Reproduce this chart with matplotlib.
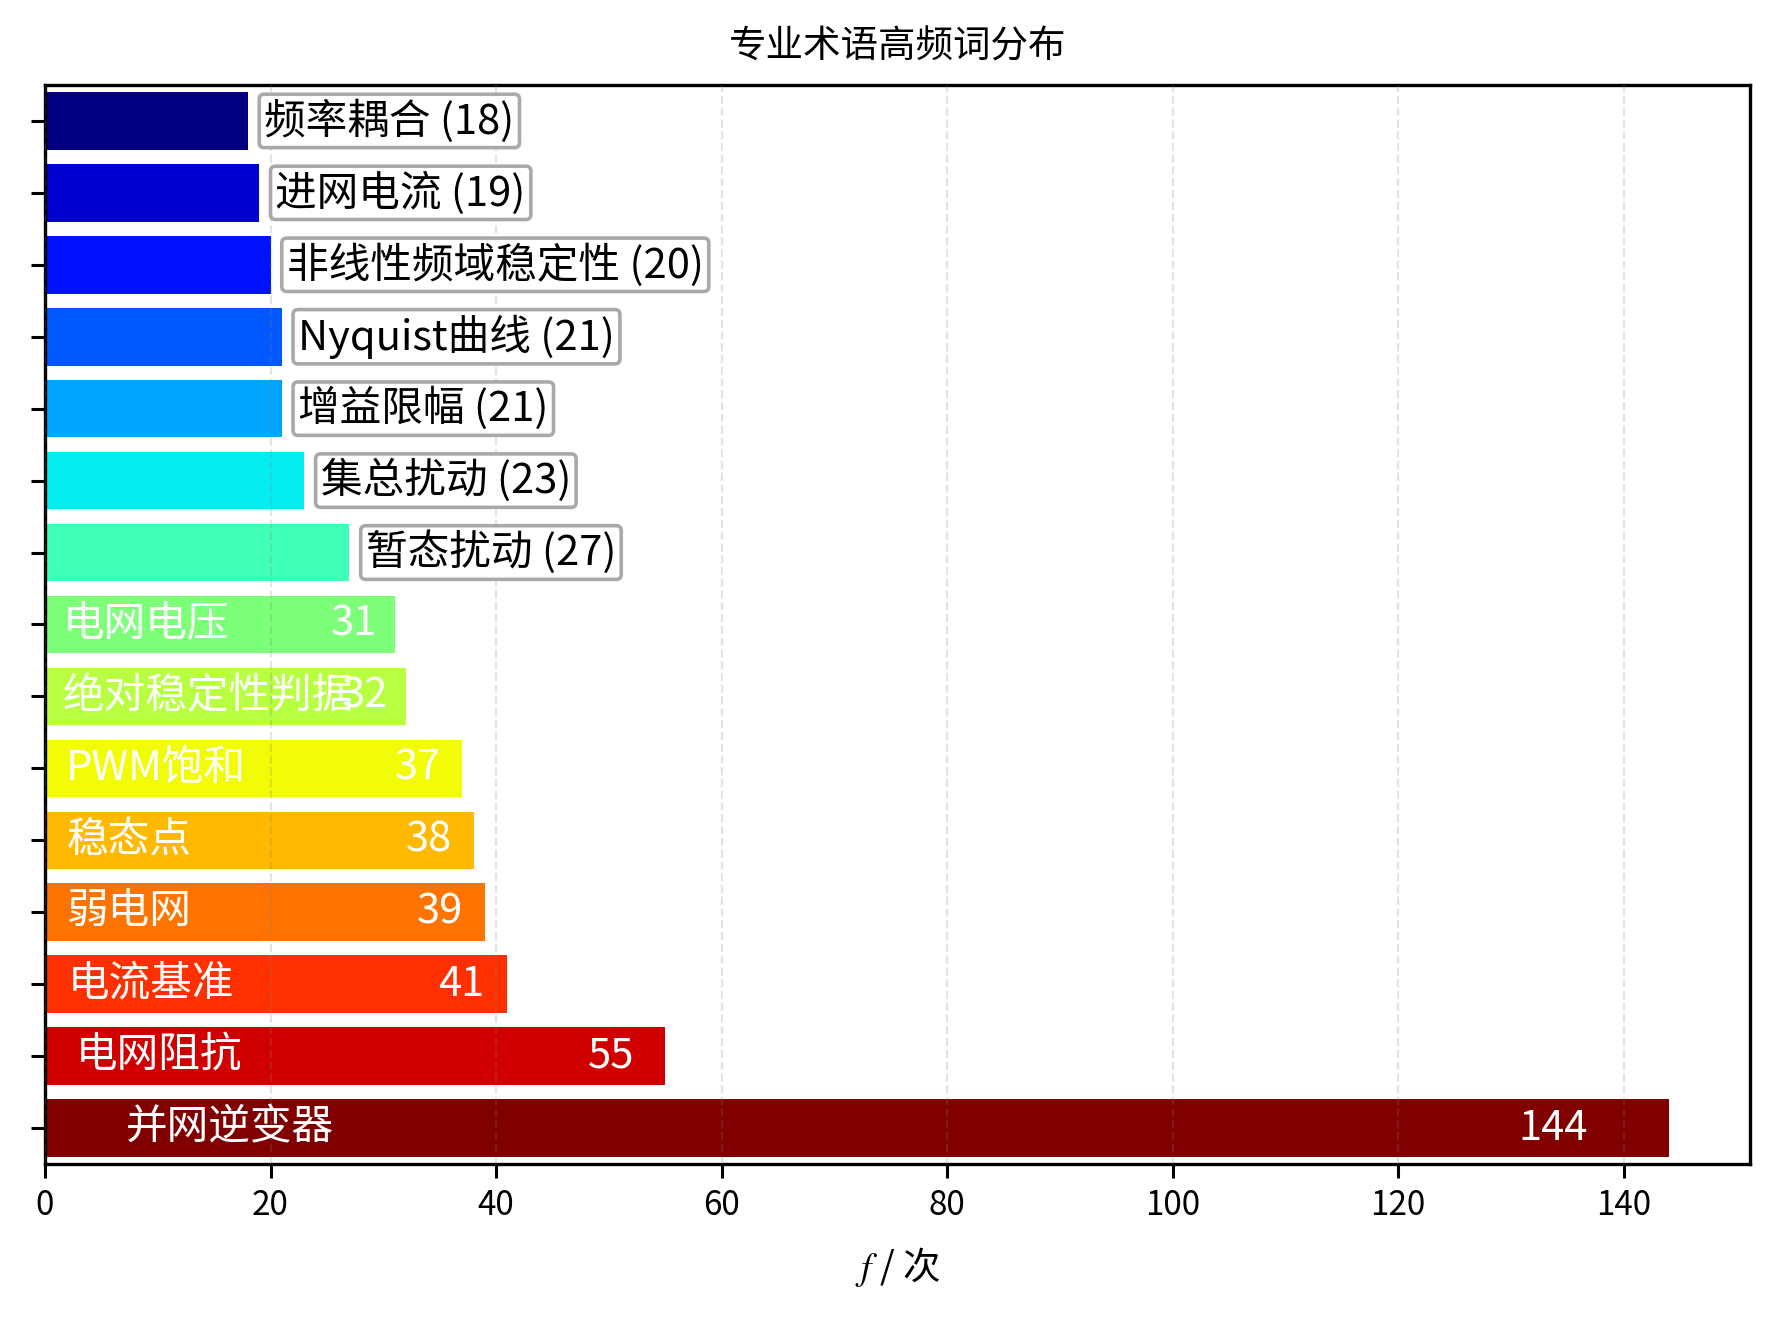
import matplotlib
matplotlib.use("Agg")
import matplotlib.pyplot as plt
import numpy as np

plt.rcParams['font.family'] = ['Noto Sans CJK SC', 'DejaVu Sans']
plt.rcParams['mathtext.fontset'] = 'stix'
plt.rcParams['axes.unicode_minus'] = False

terms = ["频率耦合", "进网电流", "非线性频域稳定性", "Nyquist曲线", "增益限幅",
         "集总扰动", "暂态扰动", "电网电压", "绝对稳定性判据", "PWM饱和",
         "稳态点", "弱电网", "电流基准", "电网阻抗", "并网逆变器"]
counts = [18, 19, 20, 21, 21, 23, 27, 31, 32, 37, 38, 39, 41, 55, 144]
xticks = [0, 20, 40, 60, 80, 100, 120, 140]

title = "专业术语高频词分布"
xlabel = "$f$ / 次"

n = len(terms)
colors = plt.cm.jet(np.linspace(0, 1, n))
vmax = max(counts)

fig = plt.figure(figsize=(8.895, 6.595), dpi=200)
ax = fig.add_axes([0.0253, 0.1175, 0.9584, 0.8181])

y = np.arange(n)
ax.barh(y, counts, height=0.8, color=colors, zorder=1)
ax.set_ylim(n - 0.5, -0.5)
ax.set_xlim(0, vmax * 1.05)
ax.set_xticks(xticks)
ax.set_yticks(y)
ax.set_yticklabels([])
ax.tick_params(axis='both', which='major', length=5, width=1.1, labelsize=12)
for s in ax.spines.values():
    s.set_linewidth(1.2)
ax.set_axisbelow(False)
ax.grid(axis='x', linestyle='--', color='gray', alpha=0.22, linewidth=0.8)

for yi, t, c in zip(y, terms, counts):
    if c < vmax * 0.2:
        ax.text(c + vmax * 0.01, yi, f"{t} ({c})", ha='left', va='center',
                fontsize=15, color='black', zorder=4,
                bbox=dict(boxstyle='round,pad=0.12', facecolor='white',
                          edgecolor='darkgray', linewidth=1.3))
    else:
        ax.text(c * 0.05, yi, t, ha='left', va='center', fontsize=15,
                color='white', zorder=4)
        ax.text(c * 0.95, yi, str(c), ha='right', va='center', fontsize=15,
                color='white', zorder=4)

ax.set_title(title, fontsize=13.5, pad=10)
ax.set_xlabel(xlabel, fontsize=13.5, labelpad=8)

fig.savefig("out.png", dpi=200)
